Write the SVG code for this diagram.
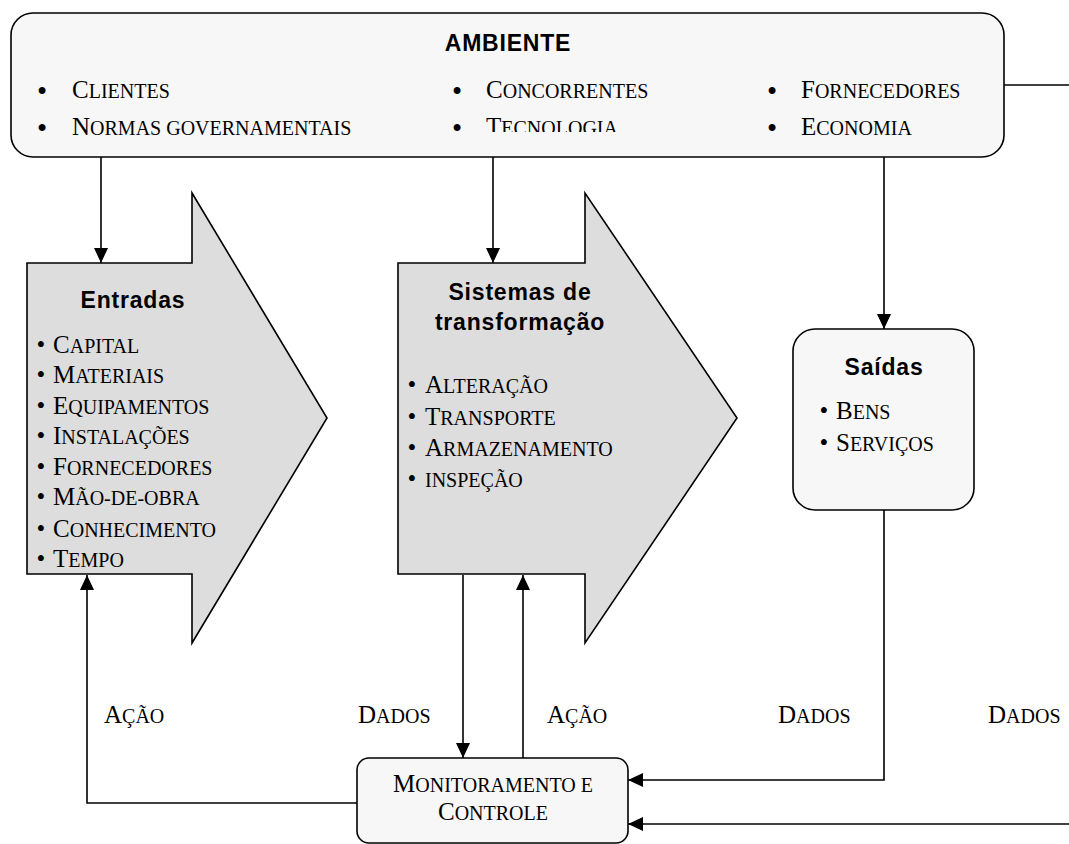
<svg xmlns="http://www.w3.org/2000/svg" width="1069" height="844" viewBox="0 0 1069 844">
<style>
.box{fill:#f7f7f7;stroke:#000;stroke-width:1.6}
.arr{fill:#dddddd;stroke:#000;stroke-width:1.6}
.ttl{font-family:"Liberation Sans",Arial,sans-serif;font-weight:bold;font-size:23px;letter-spacing:0.8px;fill:#000}
.t{font-family:"Liberation Serif","Times New Roman",serif;font-size:25px;fill:#000}
.s{font-size:20px}
.b{font-family:"Liberation Serif","Times New Roman",serif;font-size:25px;fill:#000;text-anchor:middle}
.bb{font-family:"Liberation Serif","Times New Roman",serif;font-size:29px;fill:#000;text-anchor:middle}
.c{fill:none;stroke:#000;stroke-width:1.6}
</style>
<defs>
<marker id="ah" markerWidth="15" markerHeight="14" refX="15" refY="7" orient="auto" markerUnits="userSpaceOnUse"><path d="M0,0 L15,7 L0,14 z" fill="#000"/></marker>
<clipPath id="clipTec"><rect x="470" y="100" width="200" height="32"/></clipPath>
</defs>

<g id="ambiente">
<rect class="box" x="11" y="13" width="993" height="144" rx="22" ry="22"/>
<text class="ttl" x="508" y="51" text-anchor="middle">AMBIENTE</text>
<text class="bb" x="42" y="101">•</text>
<text class="t" x="72" y="98">C<tspan class="s">LIENTES</tspan></text>
<text class="bb" x="42" y="138">•</text>
<text class="t" x="72" y="135">N<tspan class="s">ORMAS GOVERNAMENTAIS</tspan></text>
<text class="bb" x="457" y="101">•</text>
<text class="t" x="486" y="98">C<tspan class="s">ONCORRENTES</tspan></text>
<text class="bb" x="457" y="138">•</text>
<text class="t" x="486" y="135" clip-path="url(#clipTec)">T<tspan class="s">ECNOLOGIA</tspan></text>
<text class="bb" x="772" y="101">•</text>
<text class="t" x="801" y="98">F<tspan class="s">ORNECEDORES</tspan></text>
<text class="bb" x="772" y="138">•</text>
<text class="t" x="801" y="135">E<tspan class="s">CONOMIA</tspan></text>
</g>

<g id="entradas">
<polygon class="arr" points="27,263 192,263 192,193 327,418 192,643 192,574 27,574"/>
<text class="ttl" x="133" y="308" text-anchor="middle">Entradas</text>
<g class="t">
<text class="b" x="41" y="353">•</text><text class="t" x="53" y="353">C<tspan class="s">APITAL</tspan></text>
<text class="b" x="41" y="383">•</text><text class="t" x="53" y="383">M<tspan class="s">ATERIAIS</tspan></text>
<text class="b" x="41" y="414">•</text><text class="t" x="53" y="414">E<tspan class="s">QUIPAMENTOS</tspan></text>
<text class="b" x="41" y="444">•</text><text class="t" x="53" y="444">I<tspan class="s">NSTALAÇÕES</tspan></text>
<text class="b" x="41" y="475">•</text><text class="t" x="53" y="475">F<tspan class="s">ORNECEDORES</tspan></text>
<text class="b" x="41" y="505">•</text><text class="t" x="53" y="505">M<tspan class="s">ÃO-DE-OBRA</tspan></text>
<text class="b" x="41" y="537">•</text><text class="t" x="53" y="537">C<tspan class="s">ONHECIMENTO</tspan></text>
<text class="b" x="41" y="567">•</text><text class="t" x="53" y="567">T<tspan class="s">EMPO</tspan></text>
</g>
</g>

<g id="sistemas">
<polygon class="arr" points="398,263 585,263 585,193 737,418 585,643 585,574 398,574"/>
<text class="ttl" x="520" y="300" text-anchor="middle">Sistemas de</text>
<text class="ttl" x="520" y="330" text-anchor="middle">transformação</text>
<text class="b" x="412" y="393">•</text><text class="t" x="425" y="393">A<tspan class="s">LTERAÇÃO</tspan></text>
<text class="b" x="412" y="425">•</text><text class="t" x="425" y="425">T<tspan class="s">RANSPORTE</tspan></text>
<text class="b" x="412" y="456">•</text><text class="t" x="425" y="456">A<tspan class="s">RMAZENAMENTO</tspan></text>
<text class="b" x="412" y="487">•</text><text class="t" x="425" y="487"><tspan class="s">INSPEÇÃO</tspan></text>
</g>

<g id="saidas">
<rect class="box" x="793" y="329" width="181" height="181" rx="22" ry="22"/>
<text class="ttl" x="884" y="375" text-anchor="middle">Saídas</text>
<text class="b" x="824" y="419">•</text><text class="t" x="836" y="419">B<tspan class="s">ENS</tspan></text>
<text class="b" x="824" y="451">•</text><text class="t" x="836" y="451">S<tspan class="s">ERVIÇOS</tspan></text>
</g>

<g id="monitoramento">
<rect class="box" x="357" y="758" width="271" height="85" rx="12" ry="12"/>
<text class="t" x="493" y="792" text-anchor="middle">M<tspan class="s">ONITORAMENTO E</tspan></text>
<text class="t" x="493" y="820" text-anchor="middle">C<tspan class="s">ONTROLE</tspan></text>
</g>

<g id="connectors">
<path class="c" d="M101,157 V263" marker-end="url(#ah)"/>
<path class="c" d="M493,157 V263" marker-end="url(#ah)"/>
<path class="c" d="M884,157 V329" marker-end="url(#ah)"/>
<path class="c" d="M1004,85 H1069"/>
<path class="c" d="M357,803 H87 V575" marker-end="url(#ah)"/>
<path class="c" d="M463,575 V758" marker-end="url(#ah)"/>
<path class="c" d="M523,758 V575" marker-end="url(#ah)"/>
<path class="c" d="M884,510 V780 H628" marker-end="url(#ah)"/>
<path class="c" d="M1069,824 H628" marker-end="url(#ah)"/>
</g>

<g id="labels">
<text class="t" x="104" y="723">A<tspan class="s">ÇÃO</tspan></text>
<text class="t" x="358" y="723">D<tspan class="s">ADOS</tspan></text>
<text class="t" x="547" y="723">A<tspan class="s">ÇÃO</tspan></text>
<text class="t" x="778" y="723">D<tspan class="s">ADOS</tspan></text>
<text class="t" x="988" y="723">D<tspan class="s">ADOS</tspan></text>
</g>
</svg>
